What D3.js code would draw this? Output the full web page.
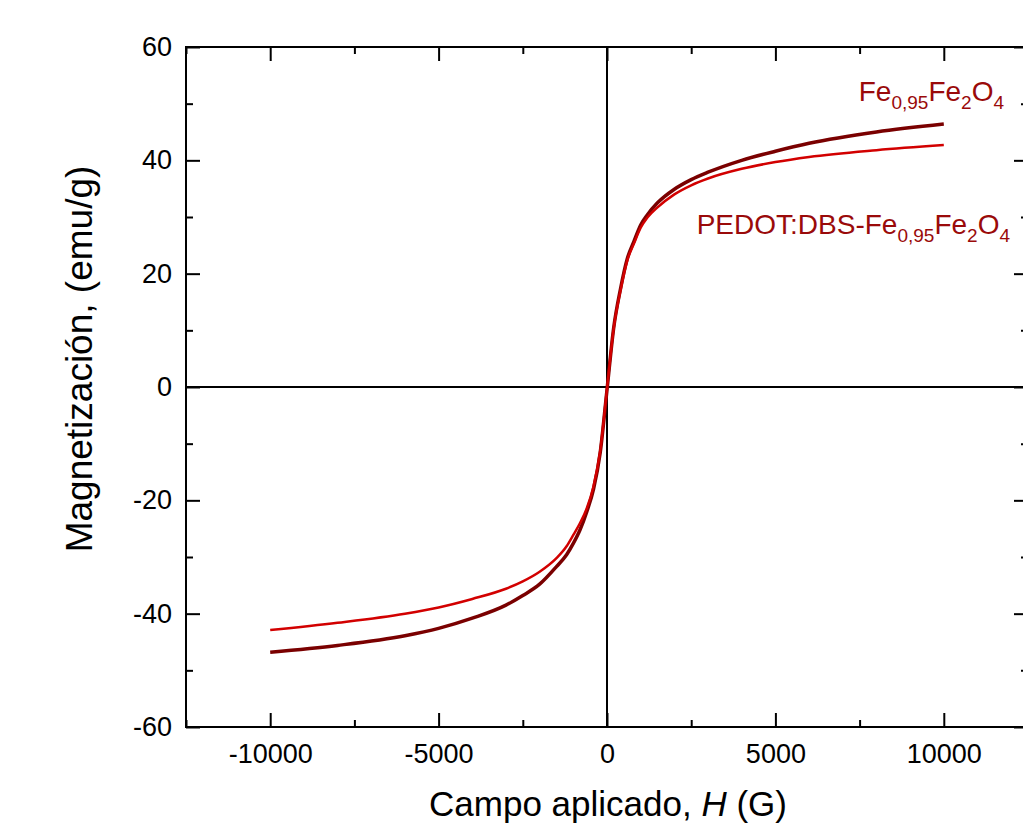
<!DOCTYPE html>
<html>
<head>
<meta charset="utf-8">
<script src="https://cdn.jsdelivr.net/npm/d3@7"></script>
<style>
  body { margin: 0; background: #fff; }
  svg { display: block; font-family: "Liberation Sans", Arial, sans-serif; }
</style>
</head>
<body>
<div id="chart"></div>
<script>
// applied field H (G)
const fieldH = [-10000, -8000, -6000, -5000, -4000, -3000, -2500, -2000, -1500, -1200, -1000, -800, -600, -400, -200,
                0, 200, 400, 600, 800, 1000, 1200, 1500, 2000, 2500, 3000, 4000, 5000, 6000, 8000, 10000];
// magnetization (emu/g), Fe0,95Fe2O4
const magFe = [-46.8, -45.6, -43.9, -42.6, -40.8, -38.5, -36.8, -34.8, -31.7, -29.6, -27.6, -25.2, -22.0, -18.0, -11.5,
               -0.5, 10.5, 17.3, 22.6, 25.7, 28.6, 30.4, 32.5, 34.9, 36.6, 37.9, 40.0, 41.6, 43.0, 45.0, 46.4];
// magnetization (emu/g), PEDOT:DBS-Fe0,95Fe2O4
const magPedot = [-42.9, -41.6, -40.0, -38.9, -37.4, -35.6, -34.3, -32.6, -30.2, -28.1, -26.1, -24.0, -21.4, -17.5, -11.2,
                  -0.3, 10.4, 17.0, 22.3, 25.3, 28.1, 29.9, 31.7, 34.0, 35.6, 36.8, 38.5, 39.7, 40.6, 41.8, 42.7];

const xTicks = [-10000, -5000, 0, 5000, 10000];
const yTicks = [-60, -40, -20, 0, 20, 40, 60];

const W = 1023, H = 825;
const margin = { left: 186, top: 47 };
const plotW = 842, plotH = 680;

const svg = d3.select("#chart").append("svg")
    .attr("width", W).attr("height", H);

const x = d3.scaleLinear().domain([-12500, 12500]).range([margin.left, margin.left + plotW]);
const y = d3.scaleLinear().domain([-60, 60]).range([margin.top + plotH, margin.top]);

const x0 = margin.left, x1 = margin.left + plotW, y0 = margin.top + plotH, y1 = margin.top;
const minorX = d3.range(-12500, 12501, 2500).filter(v => !xTicks.includes(v));
const minorY = d3.range(-60, 61, 10).filter(v => !yTicks.includes(v));
const MAJ = 14, MIN = 7;

// axes: ticks point inward on all four sides
function axis(gen, tr, vals, len, pad) {
  const g = svg.append("g").attr("transform", tr)
    .call(gen.tickValues(vals).tickSizeInner(-len).tickSizeOuter(0).tickPadding(pad || 0)
      .tickFormat(pad ? d => String(d) : ""));
  g.select(".domain").remove();
  g.selectAll(".tick line").attr("stroke", "#000").attr("stroke-width", 2);
  g.selectAll("text").attr("fill", "#000").attr("font-size", 27);
  return g;
}
axis(d3.axisBottom(x), `translate(0,${y0})`, xTicks, MAJ, 17);
axis(d3.axisBottom(x), `translate(0,${y0})`, minorX, MIN);
axis(d3.axisTop(x), `translate(0,${y1})`, xTicks, MAJ);
axis(d3.axisTop(x), `translate(0,${y1})`, minorX, MIN);
axis(d3.axisLeft(y), `translate(${x0},0)`, yTicks, MAJ, 14);
axis(d3.axisLeft(y), `translate(${x0},0)`, minorY, MIN);
axis(d3.axisRight(y), `translate(${x1},0)`, yTicks, MAJ);
axis(d3.axisRight(y), `translate(${x1},0)`, minorY, MIN);

// frame and zero lines
svg.append("rect").attr("x", x0).attr("y", y1).attr("width", plotW).attr("height", plotH)
  .attr("fill", "none").attr("stroke", "#000").attr("stroke-width", 2);
svg.append("line").attr("x1", x(0)).attr("x2", x(0)).attr("y1", y1).attr("y2", y0)
  .attr("stroke", "#000").attr("stroke-width", 2);
svg.append("line").attr("x1", x0).attr("x2", x1).attr("y1", y(0)).attr("y2", y(0))
  .attr("stroke", "#000").attr("stroke-width", 2);

// curves
const line = d3.line().x(d => x(d[0])).y(d => y(d[1])).curve(d3.curveMonotoneX);
svg.append("path").datum(d3.zip(fieldH, magFe)).attr("d", line)
  .attr("fill", "none").attr("stroke", "#7a0000").attr("stroke-width", 3.5);
svg.append("path").datum(d3.zip(fieldH, magPedot)).attr("d", line)
  .attr("fill", "none").attr("stroke", "#d20000").attr("stroke-width", 2.5);

// legend labels, sub = 1 for subscripts
function formula(xp, yp, parts) {
  const t = svg.append("text").attr("x", xp).attr("y", yp).attr("text-anchor", "end")
    .attr("fill", "#9a0a0a").attr("font-size", 28);
  let low = false;
  parts.forEach(([s, sub]) => {
    const dy = sub && !low ? 8 : !sub && low ? -8 : 0;
    low = !!sub;
    t.append("tspan").text(s).attr("font-size", sub ? 19 : 28).attr("dy", dy);
  });
}
formula(1004, 101, [["Fe", 0], ["0,95", 1], ["Fe", 0], ["2", 1], ["O", 0], ["4", 1]]);
formula(1010, 234, [["PEDOT:DBS-Fe", 0], ["0,95", 1], ["Fe", 0], ["2", 1], ["O", 0], ["4", 1]]);

// axis titles
const xt = svg.append("text").attr("x", 608).attr("y", 816).attr("text-anchor", "middle")
  .attr("font-size", 35).attr("fill", "#000");
xt.append("tspan").text("Campo aplicado, ");
xt.append("tspan").text("H").attr("font-style", "italic");
xt.append("tspan").text(" (G)");

svg.append("text").attr("transform", "translate(92,359) rotate(-90)").attr("text-anchor", "middle")
  .attr("font-size", 37).attr("fill", "#000").text("Magnetización, (emu/g)");
</script>
</body>
</html>
